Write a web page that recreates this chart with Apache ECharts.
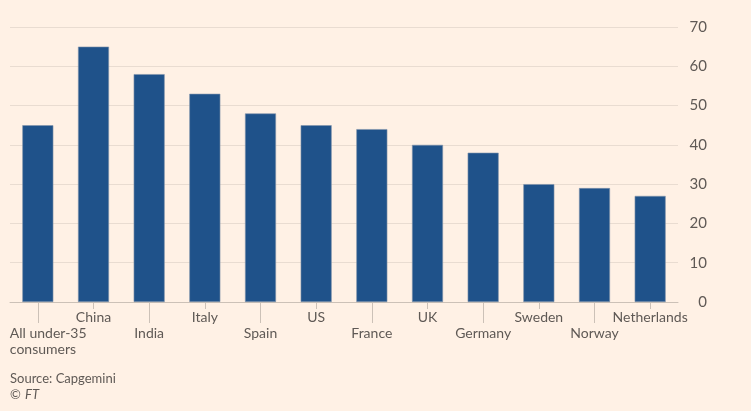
<!DOCTYPE html>
<html>
<head>
<meta charset="utf-8">
<script src="https://cdn.jsdelivr.net/npm/echarts@6/dist/echarts.min.js"></script>
<style>
  html, body { margin: 0; padding: 0; background: #fff1e5; }
  #chart { width: 751px; height: 411px; }
</style>
</head>
<body>
<div id="chart"></div>
<script>
// categories and values
var categories = ["All under-35\nconsumers", "China", "India", "Italy", "Spain", "US",
  "France", "UK", "Germany", "Sweden", "Norway", "Netherlands"];
var shares = [45, 65, 58, 53, 48, 45, 44, 40, 38, 30, 29, 27];
var yTicks = [0, 10, 20, 30, 40, 50, 60, 70];

var FONT = "Lato, 'Open Sans', sans-serif";
var TEXT = "#5f5955";
var LINE = "#ccc1b7";

var chart = echarts.init(document.getElementById("chart"));

// first label sits left-aligned at the plot edge
var catData = categories.map(function (c, i) {
  if (i === 0) {
    return { value: c, textStyle: { align: "left", padding: [0, 0, 0, -28] } };
  }
  return c;
});

var gridBox = { left: 10, right: 73, top: 27, bottom: 109, containLabel: false };

var option = {
  backgroundColor: "#fff1e5",
  animation: false,
  textStyle: { fontFamily: FONT },
  grid: [gridBox, gridBox],
  xAxis: [
    {
      type: "category",
      gridIndex: 0,
      data: catData,
      axisLine: { show: true, lineStyle: { color: LINE, width: 1 } },
      axisTick: {
        show: true,
        alignWithLabel: true,
        length: 7,
        interval: function (i) { return i % 2 === 1; },
        lineStyle: { color: LINE, width: 1 }
      },
      axisLabel: {
        interval: 0,
        margin: 7,
        color: TEXT,
        fontSize: 14,
        fontFamily: FONT,
        lineHeight: 16,
        formatter: function (v, i) { return i % 2 === 0 ? "\n" + v : v; }
      }
    },
    {
      // long ticks for the lower row of labels
      type: "category",
      gridIndex: 1,
      data: categories,
      axisLine: { show: false },
      axisTick: {
        show: true,
        alignWithLabel: true,
        length: 21,
        interval: function (i) { return i % 2 === 0; },
        lineStyle: { color: LINE, width: 1 }
      },
      axisLabel: { show: false }
    }
  ],
  yAxis: [
    {
      type: "value",
      gridIndex: 0,
      position: "right",
      min: yTicks[0],
      max: yTicks[yTicks.length - 1],
      interval: 10,
      axisLine: { show: false },
      axisTick: { show: false },
      splitLine: { lineStyle: { color: "#e9dcd1", width: 1 } },
      axisLabel: {
        color: TEXT,
        fontSize: 15,
        fontFamily: FONT,
        align: "right",
        margin: 29
      }
    },
    { type: "value", gridIndex: 1, show: false, min: 0, max: 70 }
  ],
  series: [
    {
      type: "bar",
      xAxisIndex: 0,
      yAxisIndex: 0,
      data: shares,
      barWidth: 31,
      itemStyle: { color: "#1f528a", borderColor: "#8193ab", borderWidth: 0.6 }
    }
  ],
  graphic: [
    {
      type: "text", left: 10, top: 372,
      style: { text: "Source: Capgemini", fill: TEXT, font: "13px " + FONT }
    },
    {
      type: "text", left: 10, top: 388,
      style: { text: "© ", fill: TEXT, font: "13px " + FONT }
    },
    {
      type: "text", left: 25, top: 388,
      style: { text: "FT", fill: TEXT, font: "italic 13px " + FONT }
    }
  ]
};

chart.setOption(option);
</script>
</body>
</html>
